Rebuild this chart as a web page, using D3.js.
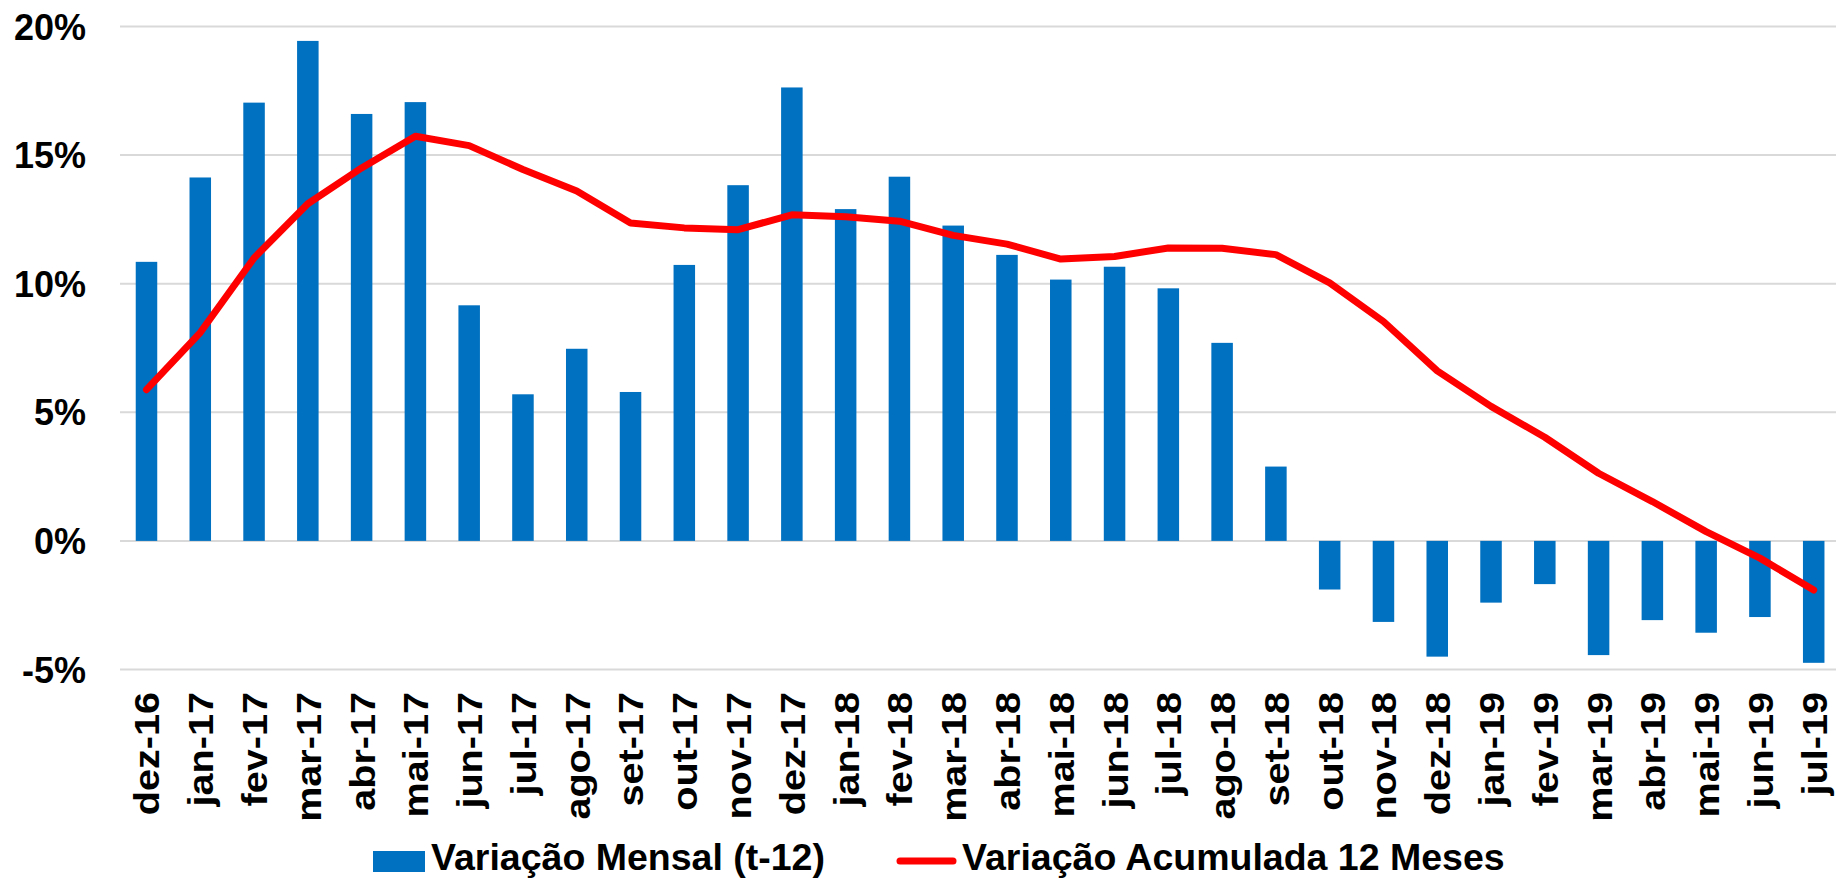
<!DOCTYPE html>
<html>
<head>
<meta charset="utf-8">
<script src="https://cdn.jsdelivr.net/npm/d3@7"></script>
<style>
  html, body { margin: 0; padding: 0; background: #fff; }
  svg { display: block; }
  text { font-family: "Liberation Sans", Arial, sans-serif; font-weight: bold; fill: #000; }
</style>
</head>
<body>
<svg id="chart" width="1836" height="879"></svg>
<script>
const categories = ["dez-16","jan-17","fev-17","mar-17","abr-17","mai-17","jun-17","jul-17","ago-17","set-17","out-17","nov-17","dez-17","jan-18","fev-18","mar-18","abr-18","mai-18","jun-18","jul-18","ago-18","set-18","out-18","nov-18","dez-18","jan-19","fev-19","mar-19","abr-19","mai-19","jun-19","jul-19"];
const mensal = [10.85,14.13,17.04,19.44,16.6,17.06,9.16,5.7,7.47,5.79,10.73,13.83,17.63,12.9,14.16,12.26,11.12,10.16,10.66,9.82,7.7,2.89,-1.89,-3.15,-4.5,-2.4,-1.68,-4.44,-3.08,-3.57,-2.96,-4.74];
const acumulada = [5.88,8.1,11.0,13.11,14.5,15.73,15.37,14.44,13.6,12.36,12.17,12.1,12.68,12.6,12.43,11.88,11.54,10.96,11.06,11.39,11.38,11.13,10.03,8.53,6.61,5.23,4.03,2.63,1.53,0.36,-0.67,-1.91];
const yTicks = [-5,0,5,10,15,20];
const legendLabels = ["Variação Mensal (t-12)","Variação Acumulada 12 Meses"];

const W = 1836, H = 879;
const svg = d3.select("#chart");

const x = d3.scaleBand().domain(categories).range([119.6, 1840.6]).paddingInner(0.6).paddingOuter(0.3);
const y = d3.scaleLinear().domain([-5, 20]).range([669.5, 26.5]);

// gridlines
svg.append("g").selectAll("line").data(yTicks).join("line")
  .attr("x1", 120).attr("x2", W)
  .attr("y1", d => y(d)).attr("y2", d => y(d))
  .attr("stroke", "#d9d9d9").attr("stroke-width", 2);

// y axis labels
const yAxis = d3.axisLeft(y).tickValues(yTicks).tickFormat(d => d + "%").tickSize(0).tickPadding(0);
const gy = svg.append("g").attr("transform", "translate(86,0)").call(yAxis);
gy.select(".domain").remove();
gy.selectAll("text")
  .attr("font-size", 36).attr("font-family", "Liberation Sans, Arial, sans-serif")
  .attr("font-weight", "bold").attr("fill", "#000").attr("dy", "0.35em");

// bars
svg.append("g").selectAll("rect").data(categories).join("rect")
  .attr("x", d => x(d))
  .attr("width", x.bandwidth())
  .attr("y", (d, i) => Math.min(y(mensal[i]), y(0)))
  .attr("height", (d, i) => Math.abs(y(mensal[i]) - y(0)))
  .attr("fill", "#0070C0");

// line
const line = d3.line()
  .x((d, i) => x(categories[i]) + x.bandwidth() / 2)
  .y(d => y(d));
svg.append("path").datum(acumulada)
  .attr("d", line)
  .attr("fill", "none").attr("stroke", "#FF0000").attr("stroke-width", 7)
  .attr("stroke-linejoin", "round").attr("stroke-linecap", "round");

// x axis labels
const xAxis = d3.axisBottom(x).tickSize(0).tickPadding(0);
const gx = svg.append("g").attr("transform", "translate(0,692)").call(xAxis);
gx.select(".domain").remove();
gx.selectAll("text")
  .attr("font-size", 36).attr("font-family", "Liberation Sans, Arial, sans-serif")
  .attr("font-weight", "bold").attr("fill", "#000")
  .attr("transform", "rotate(-90) scale(1.1,1)")
  .attr("text-anchor", "end")
  .attr("x", 0).attr("y", 0).attr("dy", "0.36em");

// legend
const lg = svg.append("g");
lg.append("rect").attr("x", 373).attr("y", 851).attr("width", 52).attr("height", 21).attr("fill", "#0070C0");
lg.append("text").attr("x", 431).attr("y", 870).attr("font-size", 37.5).text(legendLabels[0]);
lg.append("line").attr("x1", 900).attr("x2", 953).attr("y1", 861).attr("y2", 861)
  .attr("stroke", "#FF0000").attr("stroke-width", 7).attr("stroke-linecap", "round");
lg.append("text").attr("x", 962).attr("y", 870).attr("font-size", 37.5).text(legendLabels[1]);
</script>
</body>
</html>
